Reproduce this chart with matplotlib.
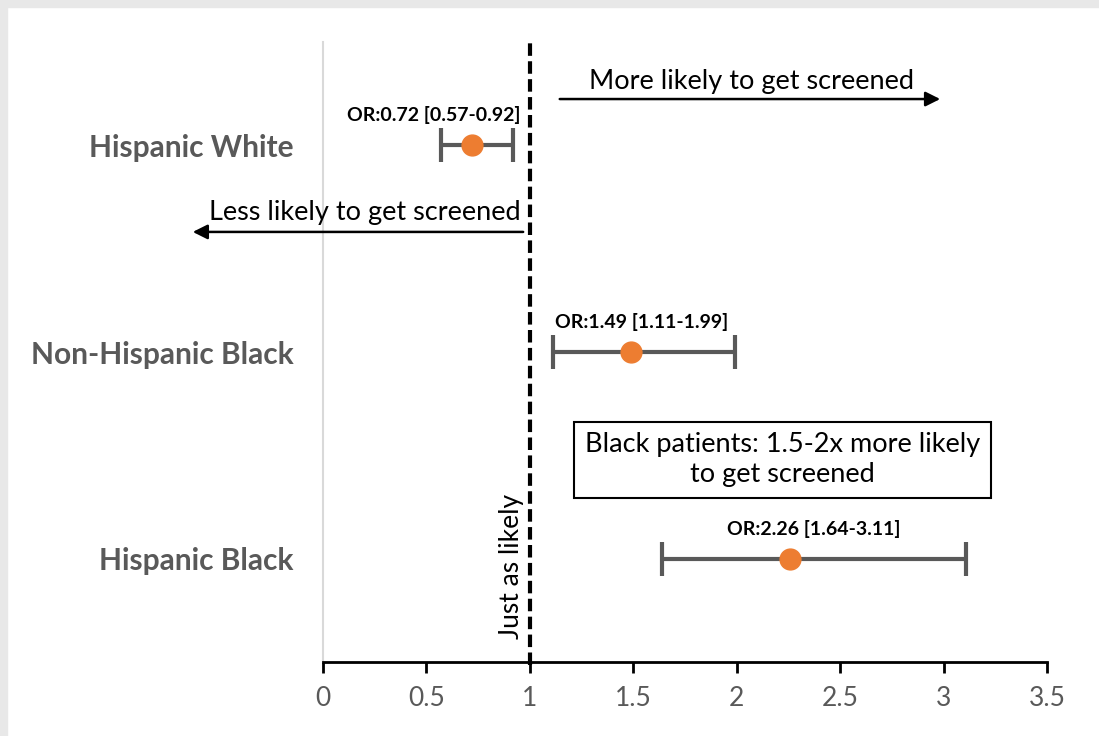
import matplotlib.pyplot as plt
from matplotlib.patches import Rectangle

plt.rcParams["font.family"] = ["Lato", "DejaVu Sans"]

# data
groups = ['Hispanic White', 'Non-Hispanic Black', 'Hispanic Black']
odds_ratio = [0.72, 1.49, 2.26]
ci_low = [0.57, 1.11, 1.64]
ci_high = [0.92, 1.99, 3.11]
x_ticks = [0, 0.5, 1, 1.5, 2, 2.5, 3, 3.5]
x_tick_labels = ['0', '0.5', '1', '1.5', '2', '2.5', '3', '3.5']

y_pos = [2.5, 1.5, 0.5]
label_x = [0.535, 1.54, 2.37]

grey = '#595959'
orange = '#ED7D31'

fig = plt.figure(figsize=(10.99, 7.36), dpi=100)
ax = fig.add_axes([323 / 1099, 74 / 736, 724 / 1099, 620 / 736])

# screenshot frame
fig.patches.append(Rectangle((0, 1 - 7 / 736), 1, 7 / 736, transform=fig.transFigure,
                             color='#e8e8e8', zorder=0))
fig.patches.append(Rectangle((0, 0), 7 / 1099, 1, transform=fig.transFigure,
                             color='#e8e8e8', zorder=0))

err = [[o - l for o, l in zip(odds_ratio, ci_low)],
       [h - o for o, h in zip(odds_ratio, ci_high)]]
ax.errorbar(odds_ratio, y_pos, xerr=err, fmt='o', color=orange, ms=15,
            ecolor=grey, elinewidth=3, capsize=12, capthick=3, zorder=3)

for o, l, h, y, lx in zip(odds_ratio, ci_low, ci_high, y_pos, label_x):
    ax.text(lx, y + 0.145, f'OR:{o:.2f} [{l:.2f}-{h:.2f}]', ha='center', va='center',
            fontsize=14, fontweight='bold', color='black')

# reference line at OR = 1
ax.plot([1, 1], [-0.015, 3], color='black', lw=3, ls=(0, (3, 1.3)), clip_on=False, zorder=4)
ax.text(0.912, 0.46, 'Just as likely', rotation=90, ha='center', va='center', fontsize=19)

# direction arrows
ax.annotate('', xy=(2.997, 2.724), xytext=(1.131, 2.724),
            arrowprops=dict(arrowstyle='-|>', color='black', lw=1.8, mutation_scale=22))
ax.text(2.073, 2.81, 'More likely to get screened', ha='center', va='center', fontsize=19.5)
ax.annotate('', xy=(-0.643, 2.081), xytext=(0.981, 2.081), annotation_clip=False,
            arrowprops=dict(arrowstyle='-|>', color='black', lw=1.8, mutation_scale=22))
ax.text(0.957, 2.173, 'Less likely to get screened', ha='right', va='center', fontsize=19.5,
        clip_on=False)

ax.text(2.223, 0.978, 'Black patients: 1.5-2x more likely\nto get screened', ha='center',
        va='center', fontsize=19.5, linespacing=1.25,
        bbox=dict(boxstyle='square,pad=0.4', fc='white', ec='black', lw=1.5))

ax.set_xlim(0, 3.5)
ax.set_ylim(0, 3)
ax.set_xticks(x_ticks)
ax.set_xticklabels(x_tick_labels)
ax.set_yticks(y_pos)
ax.set_yticklabels(groups, fontweight='bold')

ax.tick_params(axis='x', direction='out', length=8, width=2, color='black',
               labelcolor=grey, labelsize=19, pad=9)
ax.tick_params(axis='y', length=0, labelcolor=grey, labelsize=21.5, pad=21)

for side in ['top', 'right']:
    ax.spines[side].set_visible(False)
ax.spines['left'].set_color('#d9d9d9')
ax.spines['left'].set_linewidth(1.5)
ax.spines['bottom'].set_color('black')
ax.spines['bottom'].set_linewidth(2)

fig.savefig('out.png', dpi=100)
